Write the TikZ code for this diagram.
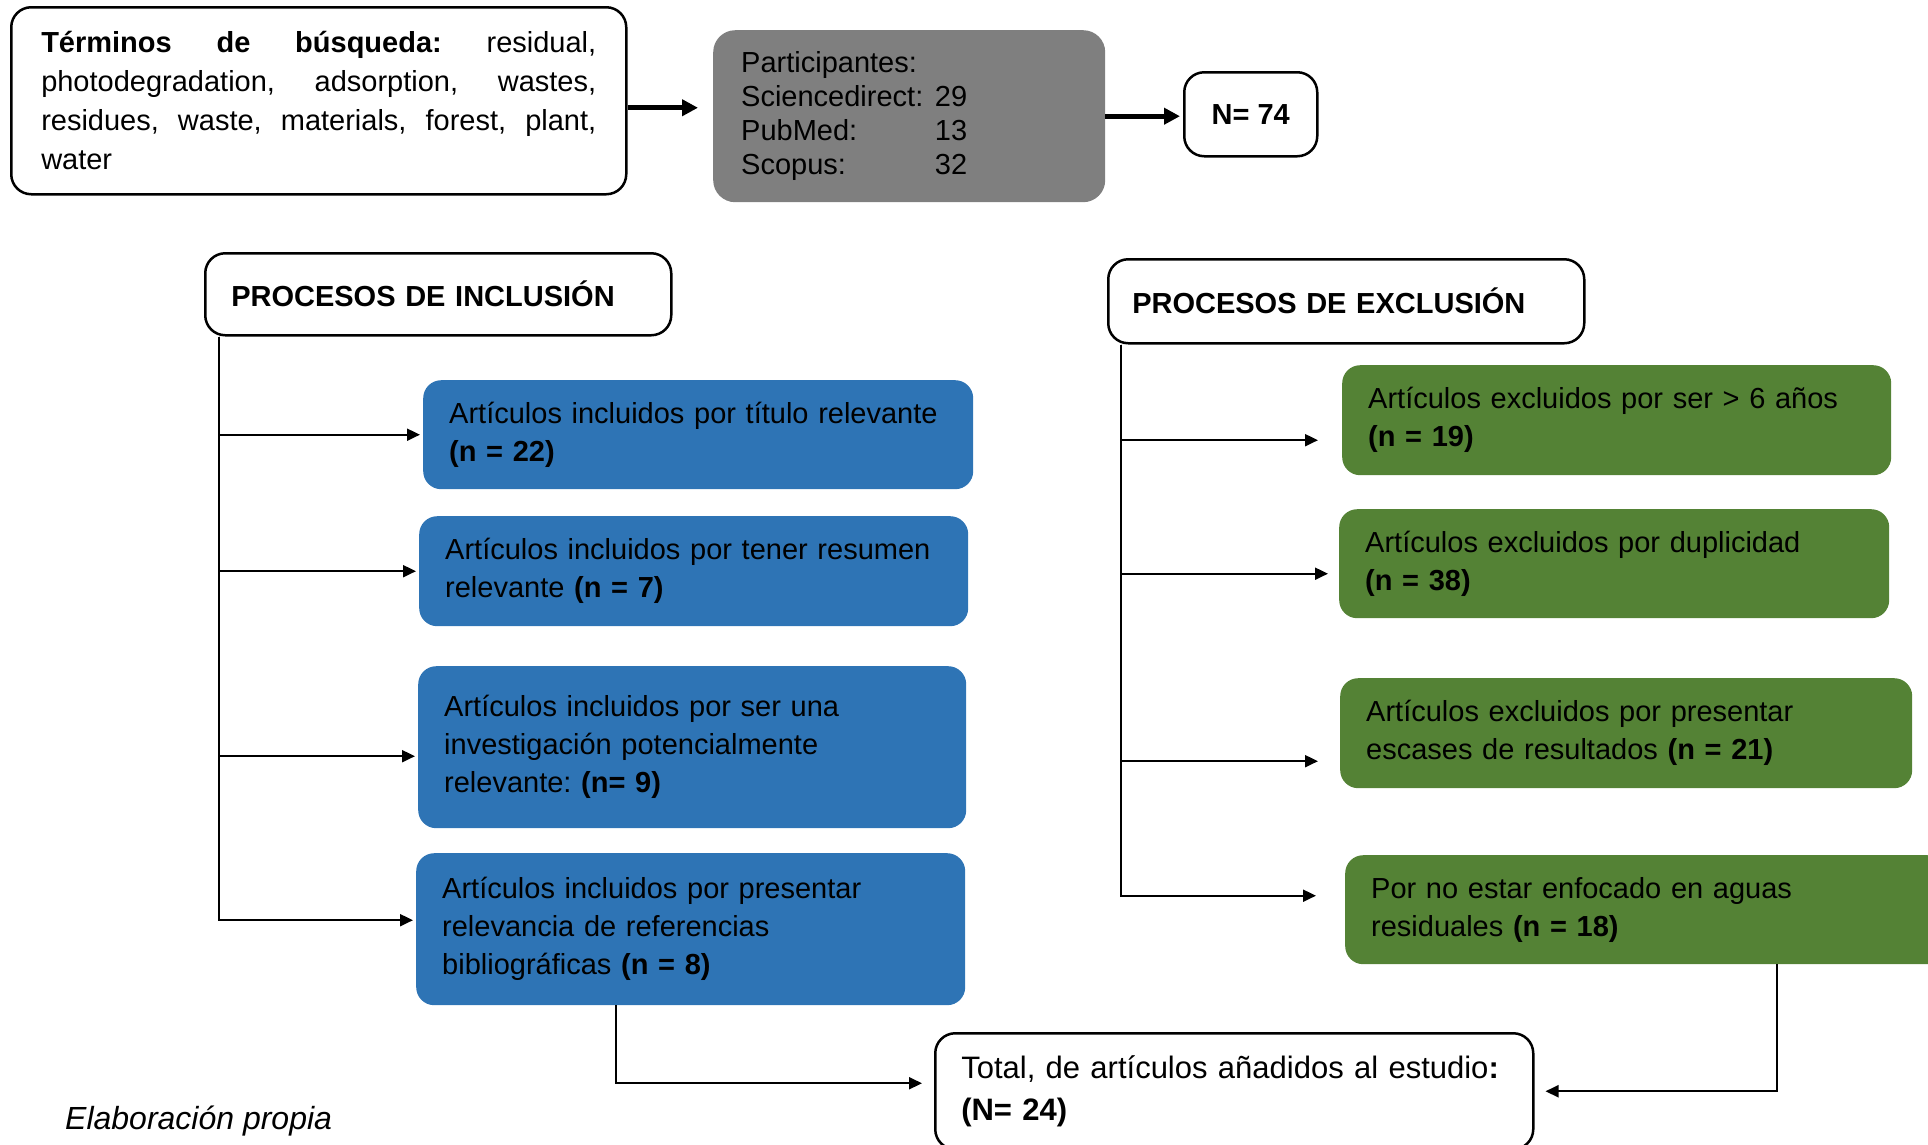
\documentclass[tikz,border=0pt]{standalone}
\usepackage{fontspec}
\setmainfont{Liberation Sans}
\usetikzlibrary{arrows.meta,calc}
\definecolor{incblue}{RGB}{46,116,181}
\definecolor{excgreen}{RGB}{84,130,53}
\definecolor{partgray}{RGB}{127,127,127}
\frenchspacing

\tikzset{
  outlinebox/.style={draw=black,line width=2.5pt,rounded corners=20pt,fill=white,anchor=north west,inner ysep=0pt,align=left},
  incbox/.style={fill=incblue,rounded corners=18pt,anchor=north west,inner xsep=26pt,inner ysep=0pt,align=left,font=\fontsize{29}{38}\selectfont},
  excbox/.style={incbox,fill=excgreen},
  flowline/.style={line width=2pt,-{Triangle[length=13pt,width=12pt]}},
  bigarrow/.style={line width=5pt,-{Triangle[length=16pt,width=16pt]}},
}

\begin{document}
\begin{tikzpicture}[x=1pt,y=-1pt]
\useasboundingbox (0,0) rectangle (1928,1144);
% TOP: search terms -> sources -> total
\node[outlinebox,inner xsep=30pt,text width=555pt,minimum height=187pt,align=justify,font=\fontsize{29}{39}\selectfont] (terms) at (10,6)
  {\textbf{Términos de búsqueda:} residual,\linebreak photodegradation, adsorption, wastes,\linebreak residues, waste, materials, forest, plant,\linebreak water};
\node[fill=partgray,rounded corners=22pt,anchor=north west,inner xsep=28pt,inner ysep=0pt,text width=336pt,minimum height=172pt,align=left,font=\fontsize{29}{34}\selectfont] (part) at (713,30)
  {Participantes:\\
   \makebox[226pt][l]{Sciencedirect:\hfill 29}\\
   \makebox[226pt][l]{PubMed:\hfill 13}\\
   \makebox[226pt][l]{Scopus:\hfill 32}};
\node[outlinebox,align=center,inner xsep=0pt,minimum width=133pt,minimum height=84pt,font=\bfseries\fontsize{29}{38}\selectfont] (n74) at (1183,71) {N= 74};
\coordinate (ta) at ([yshift=-7pt]terms.east);
\draw[bigarrow,shorten >=15pt] (ta) -- (ta -| part.west);
\draw[bigarrow,shorten >=3pt] (part.east) -- (part.east -| n74.west);

% LEFT: inclusion
\node[outlinebox,inner xsep=26pt,text width=414pt,minimum height=82pt,font=\bfseries\fontsize{29}{38}\selectfont] (inc) at (204,252) {PROCESOS DE INCLUSIÓN};
\node[incbox,text width=498pt,minimum height=109pt] (b1) at (423,380)
  {Artículos incluidos por título relevante\\\textbf{(n = 22)}};
\node[incbox,text width=497pt,minimum height=110pt] (b2) at (419,516)
  {Artículos incluidos por tener resumen\\relevante \textbf{(n = 7)}};
\node[incbox,text width=496pt,minimum height=162pt] (b3) at (418,666)
  {Artículos incluidos por ser una\\investigación potencialmente\\relevante: \textbf{(n= 9)}};
\node[incbox,text width=497pt,minimum height=152pt] (b4) at (416,853)
  {Artículos incluidos por presentar\\relevancia de referencias\\bibliográficas \textbf{(n = 8)}};
\coordinate (itop) at ([xshift=15pt]inc.south west);
\foreach \n/\dy in {b1/0,b2/0,b3/-9,b4/9} {
  \draw[flowline,shorten >=3pt] (itop) |- ([yshift=\dy pt]\n.west);
}

% RIGHT: exclusion
\node[outlinebox,inner xsep=24pt,text width=428pt,minimum height=84pt,font=\bfseries\fontsize{29}{38}\selectfont] (exc) at (1107,258) {PROCESOS DE EXCLUSIÓN};
\node[excbox,text width=497pt,minimum height=110pt] (g1) at (1342,365)
  {Artículos excluidos por ser > 6 años\\\textbf{(n = 19)}};
\node[excbox,text width=498pt,minimum height=109pt] (g2) at (1339,509)
  {Artículos excluidos por duplicidad\\\textbf{(n = 38)}};
\node[excbox,text width=520pt,minimum height=110pt] (g3) at (1340,678)
  {Artículos excluidos por presentar\\escases de resultados \textbf{(n = 21)}};
\node[excbox,text width=548pt,minimum height=109pt] (g4) at (1345,855)
  {Por no estar enfocado en aguas\\residuales \textbf{(n = 18)}};
\coordinate (etop) at ([xshift=14pt]exc.south west);
\foreach \n/\dy/\gap in {g1/-20/24,g2/-10/11,g3/-28/22,g4/14/29} {
  \draw[flowline,shorten >=\gap pt] (etop) |- ([yshift=\dy pt]\n.west);
}

% BOTTOM: total
\node[outlinebox,inner xsep=26pt,text width=546pt,minimum height=116pt,font=\fontsize{31}{42}\selectfont] (total) at (934,1032)
  {\mbox{Total, de artículos añadidos al estudio\textbf{:}}\\\textbf{(N= 24)}};
\draw[flowline,shorten >=12pt] ([xshift=-75pt]b4.south) |- ([yshift=8pt]total.west);
\draw[flowline,shorten >=11pt] ([xshift=132pt]g4.south) |- (total.east);
\node[anchor=west,inner sep=0pt,font=\itshape\fontsize{32}{38}\selectfont] (src) at (65,1121) {Elaboración propia};
\end{tikzpicture}
\end{document}
